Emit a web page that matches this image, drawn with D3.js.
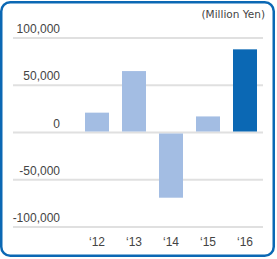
<!DOCTYPE html>
<html>
<head>
<meta charset="utf-8">
<script src="https://cdn.jsdelivr.net/npm/d3@7"></script>
<style>
  body { margin: 0; background: #fff; }
  svg text { font-family: "Liberation Sans", Arial, sans-serif; fill: #444; }
</style>
</head>
<body>
<svg id="chart" width="277" height="259"></svg>
<script>
// fiscal years and values (Million Yen)
var years = ["\u201812", "\u201813", "\u201814", "\u201815", "\u201816"];
var values = [21000, 65000, -69000, 17000, 88000];
var yTicks = [100000, 50000, 0, -50000, -100000];
var unitLabel = "(Million Yen)";

var svg = d3.select("#chart");

// rounded frame
svg.append("rect")
    .attr("x", 1.25).attr("y", 2.25)
    .attr("width", 272.5).attr("height", 253.5)
    .attr("rx", 9)
    .attr("fill", "#fff")
    .attr("stroke", "#0b68b4")
    .attr("stroke-width", 2.5);

var y = d3.scaleLinear().domain([-100000, 100000]).range([227, 38]);

var pi = 13 / 37;
var x = d3.scaleBand().domain(years).range([78.5, 263.5])
    .paddingInner(pi).paddingOuter(pi / 2);

// gridlines
svg.append("g")
    .selectAll("line")
    .data(yTicks)
    .enter().append("line")
    .attr("x1", 13).attr("x2", 263)
    .attr("y1", function (d) { return y(d); })
    .attr("y2", function (d) { return y(d); })
    .attr("stroke", "#e0e0e0")
    .attr("stroke-width", 2);

// bars, kept off the zero line
var y0 = y(0);
svg.append("g")
    .selectAll("rect")
    .data(values)
    .enter().append("rect")
    .attr("x", function (d, i) { return x(years[i]); })
    .attr("width", x.bandwidth())
    .attr("y", function (d) { return d > 0 ? y(d) : y0 + 1; })
    .attr("height", function (d) { return Math.abs(y(d) - y0) - 1; })
    .attr("fill", function (d, i) { return i == values.length - 1 ? "#0b68b4" : "#a3bde3"; });

// y labels sit above their lines
var fmt = d3.format(",");
svg.append("g")
    .selectAll("text")
    .data(yTicks)
    .enter().append("text")
    .attr("x", 60)
    .attr("y", function (d) { return y(d) - 5; })
    .attr("text-anchor", "end")
    .attr("font-size", 12)
    .text(function (d) { return fmt(d).replace("\u2212", "-"); });

// x labels
svg.append("g")
    .selectAll("text")
    .data(years)
    .enter().append("text")
    .attr("x", function (d) { return x(d) + x.bandwidth() / 2; })
    .attr("y", 246)
    .attr("text-anchor", "middle")
    .attr("font-size", 12)
    .text(function (d) { return d; });

svg.append("text")
    .attr("x", 265).attr("y", 18)
    .attr("text-anchor", "end")
    .attr("font-size", 10.5)
    .style("font-family", "'DejaVu Sans', sans-serif")
    .text(unitLabel);
</script>
</body>
</html>
